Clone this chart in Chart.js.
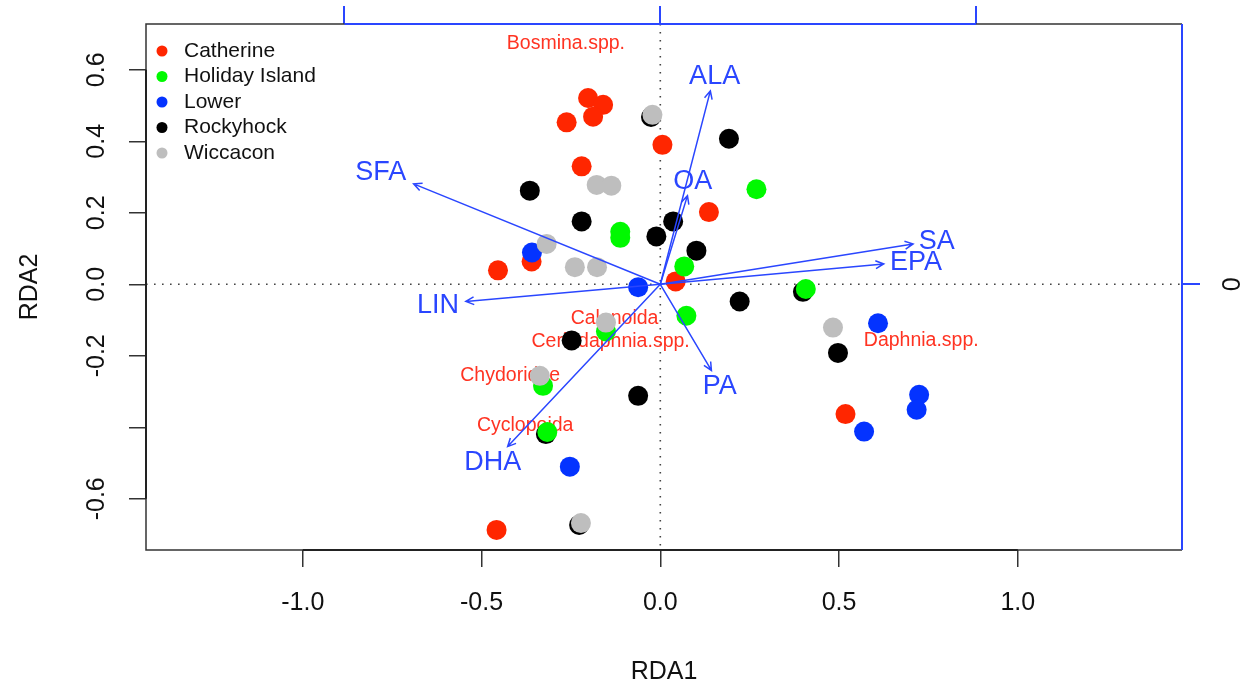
<!DOCTYPE html>
<html>
<head>
<meta charset="utf-8">
<script src="https://cdn.jsdelivr.net/npm/chart.js@4.4.0/dist/chart.umd.min.js"></script>
<style>
  html, body { margin: 0; padding: 0; background: #fff; }
  #wrap { width: 1247px; height: 688px; position: relative; }
</style>
</head>
<body>
<div id="wrap"><canvas id="rda"></canvas></div>
<script>
// site scores, one pair of arrays per lake (RDA1, RDA2)
const catherineX = [-0.202, -0.160, -0.188, -0.262, 0.006, -0.220, 0.136, -0.454, -0.360, 0.043, 0.518, -0.458];
const catherineY = [0.521, 0.502, 0.469, 0.453, 0.390, 0.330, 0.202, 0.039, 0.064, 0.008, -0.363, -0.687];
const holidayX = [0.269, -0.112, -0.112, 0.067, 0.407, 0.073, -0.152, -0.328, -0.316];
const holidayY = [0.266, 0.147, 0.130, 0.050, -0.013, -0.088, -0.132, -0.284, -0.413];
const lowerX = [-0.359, -0.062, -0.253, 0.609, 0.724, 0.717, 0.570];
const lowerY = [0.089, -0.008, -0.510, -0.109, -0.309, -0.351, -0.412];
const rockyX = [0.192, -0.365, -0.220, 0.036, -0.011, 0.101, 0.222, 0.497, -0.248, -0.062, 0.399, -0.320, -0.227, -0.026];
const rockyY = [0.407, 0.262, 0.176, 0.176, 0.134, 0.094, -0.048, -0.192, -0.157, -0.312, -0.021, -0.419, -0.673, 0.468];
const wiccaconX = [-0.022, -0.178, -0.137, -0.318, -0.239, -0.177, -0.152, -0.337, 0.483, -0.222];
const wiccaconY = [0.474, 0.278, 0.276, 0.113, 0.048, 0.048, -0.107, -0.256, -0.121, -0.668];

const siteNames = ['Catherine', 'Holiday Island', 'Lower', 'Rockyhock', 'Wiccacon'];
const siteColors = ['#ff2600', '#00f900', '#0433ff', '#000000', '#bebebe'];

// environmental arrows (biplot scores) and where their labels sit
const envNames = ['ALA', 'OA', 'SFA', 'SA', 'EPA', 'LIN', 'DHA', 'PA'];
const envX = [0.140, 0.076, -0.690, 0.707, 0.625, -0.544, -0.427, 0.143];
const envY = [0.541, 0.248, 0.281, 0.113, 0.057, -0.048, -0.454, -0.241];
const envLabelX = [0.152, 0.091, -0.782, 0.773, 0.715, -0.622, -0.469, 0.166];
const envLabelY = [0.580, 0.287, 0.312, 0.119, 0.060, -0.060, -0.499, -0.287];

// species scores (text only)
const sppNames = ['Bosmina.spp.', 'Calanoida', 'Ceriodaphnia.spp.', 'Chydoridae', 'Cyclopoida', 'Daphnia.spp.'];
const sppX = [-0.264, -0.128, -0.139, -0.420, -0.378, 0.730];
const sppY = [0.672, -0.095, -0.159, -0.256, -0.396, -0.158];

// axes
const xTicks = [-1.0, -0.5, 0.0, 0.5, 1.0];
const yTicks = [-0.6, -0.4, -0.2, 0.0, 0.2, 0.4, 0.6];
const yTickLabels = ['-0.6', '', '-0.2', '0.0', '0.2', '0.4', '0.6'];
const arrowAxisTicks = [-1, 0, 1];

const xMin = -1.4386, xMax = 1.4593, yMin = -0.7432, yMax = 0.7281;
const arrowMul = 0.8835;

const FONT = '"Liberation Sans", Arial, Helvetica, sans-serif';
const BLUE = '#2a46ff';
Chart.defaults.font.family = FONT;
Chart.defaults.color = '#000';

function pts(xs, ys) {
    return xs.map((v, i) => ({x: v, y: ys[i]}));
}

const siteX = [catherineX, holidayX, lowerX, rockyX, wiccaconX];
const siteY = [catherineY, holidayY, lowerY, rockyY, wiccaconY];
const drawOrder = [4, 1, 2, 3, 0]; // grey on top, red at the bottom

const datasets = siteNames.map((name, i) => ({
    label: name,
    data: pts(siteX[i], siteY[i]),
    backgroundColor: siteColors[i],
    borderWidth: 0,
    pointRadius: 10,
    pointHoverRadius: 10,
    order: drawOrder[i]
}));

function drawArrow(ctx, x0, y0, x1, y1) {
    const ang = Math.atan2(y1 - y0, x1 - x0);
    const h = 9, sp = Math.PI / 7;
    ctx.beginPath();
    ctx.moveTo(x0, y0);
    ctx.lineTo(x1, y1);
    ctx.moveTo(x1 - h * Math.cos(ang - sp), y1 - h * Math.sin(ang - sp));
    ctx.lineTo(x1, y1);
    ctx.lineTo(x1 - h * Math.cos(ang + sp), y1 - h * Math.sin(ang + sp));
    ctx.stroke();
}

const rdaDecor = {
    id: 'rdaDecor',
    beforeDatasetsDraw(chart) {
        const {ctx, chartArea: a, scales: {x, y}} = chart;
        ctx.save();
        // dotted zero lines
        ctx.strokeStyle = '#444';
        ctx.lineWidth = 1.6;
        ctx.setLineDash([1.6, 6.4]);
        ctx.beginPath();
        ctx.moveTo(a.left, y.getPixelForValue(0));
        ctx.lineTo(a.right, y.getPixelForValue(0));
        ctx.moveTo(x.getPixelForValue(0), a.top);
        ctx.lineTo(x.getPixelForValue(0), a.bottom);
        ctx.stroke();
        ctx.setLineDash([]);

        // species names sit under the points
        ctx.fillStyle = '#ff3322';
        ctx.font = '19.5px ' + FONT;
        ctx.textAlign = 'center';
        ctx.textBaseline = 'middle';
        sppNames.forEach((s, i) => {
            ctx.fillText(s, x.getPixelForValue(sppX[i]), y.getPixelForValue(sppY[i]));
        });
        ctx.restore();
    },
    afterDatasetsDraw(chart) {
        const {ctx, chartArea: a, scales: {x, y, x2}} = chart;
        ctx.save();
        // arrows
        ctx.strokeStyle = BLUE;
        ctx.lineWidth = 1.5;
        const ox = x.getPixelForValue(0), oy = y.getPixelForValue(0);
        envNames.forEach((n, i) => {
            drawArrow(ctx, ox, oy, x.getPixelForValue(envX[i]), y.getPixelForValue(envY[i]));
        });
        ctx.fillStyle = BLUE;
        ctx.font = '27px ' + FONT;
        ctx.textAlign = 'center';
        ctx.textBaseline = 'middle';
        envNames.forEach((n, i) => {
            ctx.fillText(n, x.getPixelForValue(envLabelX[i]), y.getPixelForValue(envLabelY[i]));
        });

        // box
        ctx.lineWidth = 1.5;
        ctx.strokeStyle = '#333';
        ctx.beginPath();
        ctx.moveTo(a.right, a.top);
        ctx.lineTo(a.left, a.top);
        ctx.lineTo(a.left, a.bottom);
        ctx.lineTo(a.right, a.bottom);
        ctx.stroke();
        // axis lines between the outer ticks
        ctx.lineWidth = 2;
        ctx.strokeStyle = '#222';
        ctx.beginPath();
        ctx.moveTo(x.getPixelForValue(xTicks[0]), a.bottom);
        ctx.lineTo(x.getPixelForValue(xTicks[xTicks.length - 1]), a.bottom);
        ctx.moveTo(a.left, y.getPixelForValue(yTicks[0]));
        ctx.lineTo(a.left, y.getPixelForValue(yTicks[yTicks.length - 1]));
        ctx.stroke();
        // arrow axes in blue (top and right)
        ctx.strokeStyle = BLUE;
        ctx.beginPath();
        ctx.moveTo(x2.getPixelForValue(arrowAxisTicks[0]), a.top);
        ctx.lineTo(x2.getPixelForValue(arrowAxisTicks[arrowAxisTicks.length - 1]), a.top);
        ctx.moveTo(a.right, a.top);
        ctx.lineTo(a.right, a.bottom);
        ctx.stroke();

        // legend in the top-left corner
        ctx.font = '21px ' + FONT;
        ctx.textAlign = 'left';
        ctx.textBaseline = 'middle';
        chart.data.datasets.forEach((ds, i) => {
            const ly = a.top + 27 + i * 25.5;
            ctx.fillStyle = ds.backgroundColor;
            ctx.beginPath();
            ctx.arc(a.left + 16, ly, 5.5, 0, Math.PI * 2);
            ctx.fill();
            ctx.fillStyle = '#111';
            ctx.fillText(ds.label, a.left + 38, ly);
        });
        ctx.restore();
    }
};

function setTicks(values) {
    return (scale) => { scale.ticks = values.map(v => ({value: v})); };
}

function fixSize(w, h) {
    return (s) => {
        if (w !== null) s.width = w;
        if (h !== null) s.height = h;
        s.paddingTop = 0;
        s.paddingBottom = 0;
        s.paddingLeft = 0;
        s.paddingRight = 0;
    };
}

new Chart(document.getElementById('rda'), {
    type: 'scatter',
    data: {datasets: datasets},
    options: {
        responsive: true,
        maintainAspectRatio: false,
        animation: false,
        events: [],
        layout: {padding: 0},
        plugins: {legend: {display: false}, tooltip: {enabled: false}},
        scales: {
            x: {
                type: 'linear', position: 'bottom', min: xMin, max: xMax,
                afterBuildTicks: setTicks(xTicks),
                afterFit: fixSize(null, 138),
                grid: {drawOnChartArea: false, drawTicks: true, tickLength: 17, color: '#333', lineWidth: 1.5},
                border: {display: false},
                ticks: {font: {size: 25}, color: '#111', padding: 21, maxRotation: 0, callback: (v) => Number(v).toFixed(1)},
                title: {display: true, text: 'RDA1', font: {size: 25}, color: '#111', padding: {top: 0, bottom: 1}}
            },
            y: {
                type: 'linear', position: 'left', min: yMin, max: yMax,
                afterBuildTicks: setTicks(yTicks),
                afterFit: fixSize(146, null),
                grid: {drawOnChartArea: false, drawTicks: true, tickLength: 17, color: '#333', lineWidth: 1.5},
                border: {display: false},
                ticks: {font: {size: 25}, color: '#111', padding: 10, minRotation: 90, maxRotation: 90, crossAlign: 'center',
                    callback: (v, i) => yTickLabels[i]},
                title: {display: true, text: 'RDA2', font: {size: 25}, color: '#111', padding: {top: 15, bottom: 0}}
            },
            x2: {
                type: 'linear', position: 'top', min: xMin / arrowMul, max: xMax / arrowMul,
                afterBuildTicks: setTicks(arrowAxisTicks),
                afterFit: fixSize(null, 24),
                grid: {drawOnChartArea: false, drawTicks: true, tickLength: 18, color: BLUE, lineWidth: 2},
                border: {display: false},
                ticks: {display: false}
            },
            y2: {
                type: 'linear', position: 'right', min: yMin / arrowMul, max: yMax / arrowMul,
                afterBuildTicks: setTicks([0]),
                afterFit: fixSize(65, null),
                grid: {drawOnChartArea: false, drawTicks: true, tickLength: 18, color: BLUE, lineWidth: 2},
                border: {display: false},
                ticks: {font: {size: 25}, color: '#111', padding: 26, minRotation: 90, maxRotation: 90, crossAlign: 'center',
                    callback: () => '0'}
            }
        }
    },
    plugins: [rdaDecor]
});
</script>
</body>
</html>
